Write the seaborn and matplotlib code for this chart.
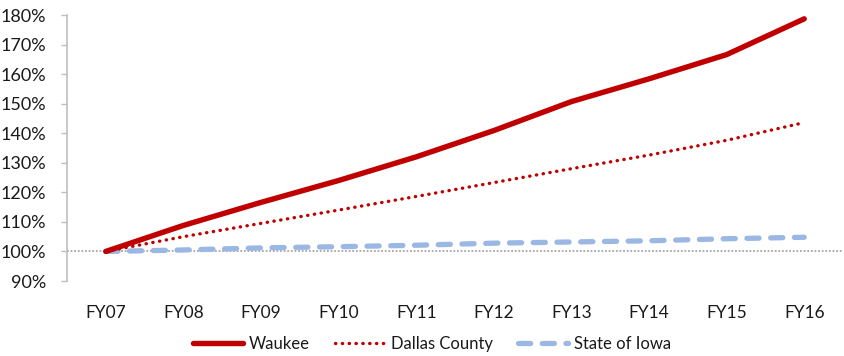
import matplotlib
matplotlib.use("Agg")
import matplotlib.pyplot as plt
import seaborn as sns
import pandas as pd
from matplotlib.ticker import FuncFormatter

years = ["FY07", "FY08", "FY09", "FY10", "FY11", "FY12", "FY13", "FY14", "FY15", "FY16"]
waukee = [100.0, 108.8, 116.6, 124.0, 132.0, 140.9, 150.7, 158.4, 166.6, 178.7]
dallas_county = [100.0, 105.0, 109.5, 114.0, 118.6, 123.3, 128.0, 132.6, 137.6, 143.6]
state_of_iowa = [100.0, 100.5, 101.2, 101.6, 102.1, 102.8, 103.2, 103.6, 104.3, 104.8]
y_ticks = [90, 100, 110, 120, 130, 140, 150, 160, 170, 180]

sns.set_style("white")
plt.rcParams["font.family"] = ["Lato", "DejaVu Sans"]

df = pd.DataFrame({"year": years, "Waukee": waukee,
                   "Dallas County": dallas_county, "State of Iowa": state_of_iowa})

fig = plt.figure(figsize=(8.45, 3.56), dpi=100)
ax = fig.add_axes([67 / 845, 1 - 281 / 356, 776 / 845, 266 / 356])

red = "#C00000"
blue = "#9BB7E3"
text_color = "#1a1a1a"

# 100% reference line
ax.axhline(100, color="#A6A6A6", lw=1.3, linestyle=(0, (1, 1)), zorder=1)

sns.lineplot(data=df, x="year", y="State of Iowa", ax=ax, color=blue, lw=3.8,
             label="State of Iowa", sort=False, zorder=2)
ax.lines[-1].set_linestyle((0, (2.3, 2.2)))
ax.lines[-1].set_dash_capstyle("round")

sns.lineplot(data=df, x="year", y="Dallas County", ax=ax, color=red, lw=2.4,
             label="Dallas County", sort=False, zorder=3)
ax.lines[-1].set_linestyle((0, (0.1, 1.95)))
ax.lines[-1].set_dash_capstyle("round")

sns.lineplot(data=df, x="year", y="Waukee", ax=ax, color=red, lw=3.9,
             label="Waukee", sort=False, zorder=4)
ax.lines[-1].set_solid_capstyle("round")

ax.set_xlim(-0.5, len(years) - 0.5)
ax.set_ylim(90, 180)
ax.set_yticks(y_ticks)
ax.yaxis.set_major_formatter(FuncFormatter(lambda v, _: f"{v:.0f}%"))
ax.set_xlabel("")
ax.set_ylabel("")

for side in ["top", "right", "bottom"]:
    ax.spines[side].set_visible(False)
ax.spines["left"].set_color("#BFBFBF")
ax.spines["left"].set_linewidth(1.2)

ax.tick_params(axis="y", which="both", left=True, length=4, width=1.0,
               color="#BFBFBF", labelsize=13, labelcolor=text_color, pad=11)
ax.tick_params(axis="x", bottom=False, labelsize=12.5, labelcolor=text_color, pad=14)

handles, labels = ax.get_legend_handles_labels()
ax.get_legend().remove()
order = ["Waukee", "Dallas County", "State of Iowa"]
hmap = dict(zip(labels, handles))
fig.legend([hmap[k] for k in order], order, loc="center",
           bbox_to_anchor=(432 / 845, 1 - 344 / 356), ncol=3, frameon=False,
           fontsize=12, handlelength=3.0, handletextpad=0.35,
           columnspacing=1.5, labelcolor=text_color, borderaxespad=0,
           borderpad=0)

fig.savefig("out.png", dpi=100)
